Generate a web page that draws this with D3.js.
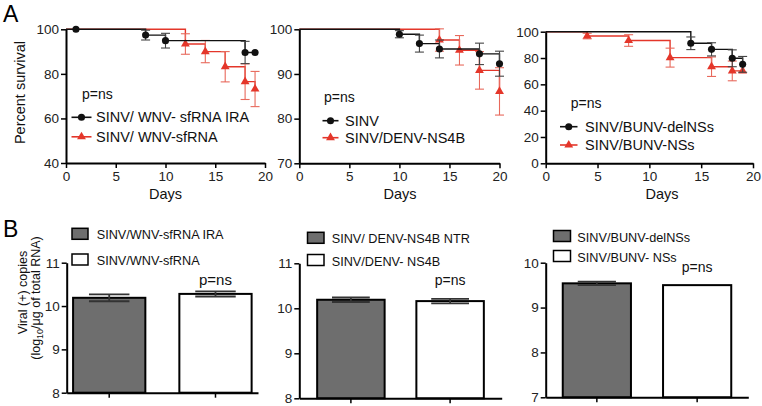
<!DOCTYPE html>
<html><head><meta charset="utf-8">
<script src="https://cdn.jsdelivr.net/npm/d3@7/dist/d3.min.js"></script>
<style>body{margin:0;background:#fff} svg{display:block;font-family:"Liberation Sans",Arial,Helvetica,sans-serif}</style>
</head><body><svg id="chart" width="762" height="406"></svg>
<script>
// ---------- DATA ----------
const daysTicks = [0, 5, 10, 15, 20];

// Panel A1
const a1Labels = ["SINV/ WNV- sfRNA IRA", "SINV/ WNV-sfRNA"];
const a1YTicks = [40, 60, 80, 100];
const a1BlackDays = [1, 8, 10, 18, 19];
const a1BlackSurv = [100, 97.4, 94.9, 89.6, 89.6];
const a1BlackErr  = [0, 2.2, 3.3, 5.0, 0];
const a1RedDays = [12, 14, 16, 18, 19];
const a1RedSurv = [93.4, 90.0, 83.2, 76.5, 73.2];
const a1RedErr  = [4.6, 5.0, 6.8, 8.0, 7.9];

// Panel A2
const a2Labels = ["SINV", "SINV/DENV-NS4B"];
const a2YTicks = [70, 80, 90, 100];
const a2BlackDays = [10, 12, 14, 18, 20];
const a2BlackSurv = [98.9, 96.8, 95.6, 94.5, 92.3];
const a2BlackErr  = [0.8, 1.9, 2.0, 2.4, 2.8];
const a2RedDays = [14, 16, 18, 20];
const a2RedSurv = [97.6, 95.3, 90.8, 86.1];
const a2RedErr  = [2.5, 3.3, 4.2, 5.3];

// Panel A3
const a3Labels = ["SINV/BUNV-delNSs", "SINV/BUNV-NSs"];
const a3YTicks = [0, 20, 40, 60, 80, 100];
const a3BlackDays = [14, 16, 18, 19];
const a3BlackSurv = [91.2, 86.6, 79.8, 75.2];
const a3BlackErr  = [4.8, 5.0, 6.4, 6.0];
const a3RedDays = [4, 8, 12, 16, 18, 19];
const a3RedSurv = [96.7, 93.3, 80.3, 73.4, 70.2, 70.2];
const a3RedErr  = [2.1, 4.4, 7.2, 7.4, 7.5, 0];

// Panel B
const b1Labels = ["SINV/WNV-sfRNA IRA", "SINV/WNV-sfRNA"];
const b1Values = [10.19, 10.28];
const b1Err    = [0.08, 0.06];
const b1YTicks = [8, 9, 10, 11];

const b2Labels = ["SINV/ DENV-NS4B NTR", "SINV/DENV- NS4B"];
const b2Values = [10.19, 10.16];
const b2Err    = [0.05, 0.05];
const b2YTicks = [8, 9, 10, 11];

const b3Labels = ["SINV/BUNV-delNSs", "SINV/BUNV- NSs"];
const b3Values = [9.54, 9.50];
const b3Err    = [0.04, 0.0];
const b3YTicks = [7, 8, 9, 10];

const pLabel = "p=ns";

// ---------- STYLE ----------
const RED = "#e4362a", RED_ERR = "#e8695c", BLACK = "#111", BLACK_ERR = "#444", GRAY = "#6e6e6e";

const svg = d3.select("#chart");

function styleAxis(g) {
  g.select(".domain").attr("stroke", "#000").attr("stroke-width", 2);
  g.selectAll(".tick line").attr("stroke", "#000").attr("stroke-width", 1.5);
  g.selectAll(".tick text").attr("fill", "#222").style("font-size", "13.5px");
}

function stepPath(days, surv, x, y) {
  let cur = 100;
  const pts = [[0, cur]];
  days.forEach((d, i) => {
    if (surv[i] !== cur) { pts.push([d, cur]); pts.push([d, surv[i]]); cur = surv[i]; }
  });
  pts.push([days[days.length - 1], cur]);
  return d3.line().x(p => x(p[0])).y(p => y(p[1]))(pts);
}

function drawSeries(g, days, surv, err, x, y, color, errColor, marker) {
  g.append("path").attr("d", stepPath(days, surv, x, y))
    .attr("fill", "none").attr("stroke", color).attr("stroke-width", 1.4);
  days.forEach((d, i) => {
    if (err[i] > 0) {
      const cx = x(d), yt = y(surv[i] + err[i]), yb = y(surv[i] - err[i]);
      const eg = g.append("g").attr("stroke", errColor).attr("stroke-width", 1.1);
      eg.append("line").attr("x1", cx).attr("x2", cx).attr("y1", yt).attr("y2", yb);
      eg.append("line").attr("x1", cx - 4.5).attr("x2", cx + 4.5).attr("y1", yt).attr("y2", yt);
      eg.append("line").attr("x1", cx - 4.5).attr("x2", cx + 4.5).attr("y1", yb).attr("y2", yb);
    }
  });
  g.selectAll(null).data(days).enter().append("path")
    .attr("transform", (d, i) => `translate(${x(d)},${y(surv[i])})`)
    .attr("d", d3.symbol().type(marker).size(marker === d3.symbolCircle ? 40 : 34)())
    .attr("fill", color);
}

function legendItem(g, lx1, lx2, ly, color, marker, text, tx, fs) {
  g.append("line").attr("x1", lx1).attr("x2", lx2).attr("y1", ly).attr("y2", ly)
    .attr("stroke", color).attr("stroke-width", 1.6);
  g.append("path").attr("transform", `translate(${(lx1 + lx2) / 2},${ly})`)
    .attr("d", d3.symbol().type(marker).size(marker === d3.symbolCircle ? 40 : 34)()).attr("fill", color);
  g.append("text").attr("x", tx).attr("y", ly + 5).text(text).style("font-size", fs + "px").attr("fill", "#111");
}

function drawSurv(c) {
  const g = svg.append("g");
  const x = d3.scaleLinear().domain([0, 20]).range([c.x0, c.x1]);
  const y = d3.scaleLinear().domain([c.yTicks[0], 100]).range([c.yBot, c.yTop]);
  drawSeries(g, c.red.days, c.red.surv, c.red.err, x, y, RED, RED_ERR, d3.symbolTriangle);
  drawSeries(g, c.black.days, c.black.surv, c.black.err, x, y, BLACK, BLACK_ERR, d3.symbolCircle);
  const ax = g.append("g").attr("transform", `translate(0,${c.yBot})`)
    .call(d3.axisBottom(x).tickValues(daysTicks).tickSize(5).tickSizeOuter(0).tickPadding(3));
  styleAxis(ax);
  const ay = g.append("g").attr("transform", `translate(${c.x0},0)`)
    .call(d3.axisLeft(y).tickValues(c.yTicks).tickSize(5).tickSizeOuter(0).tickPadding(2));
  styleAxis(ay);
  g.append("text").attr("x", c.daysX).attr("y", 199).attr("text-anchor", "middle")
    .text("Days").style("font-size", "14.5px").attr("fill", "#111");
  const L = c.leg;
  g.append("text").attr("x", L.px).attr("y", L.py).text(pLabel).style("font-size", "14px").attr("fill", "#111");
  legendItem(g, L.lx1, L.lx2, L.ly1, BLACK, d3.symbolCircle, c.labels[0], L.tx, 14.5);
  legendItem(g, L.lx1, L.lx2, L.ly2, RED, d3.symbolTriangle, c.labels[1], L.tx, 14.5);
}

drawSurv({x0: 66, x1: 265, yTop: 29.3, yBot: 163, yTicks: a1YTicks, labels: a1Labels, daysX: 165.5,
  black: {days: a1BlackDays, surv: a1BlackSurv, err: a1BlackErr},
  red: {days: a1RedDays, surv: a1RedSurv, err: a1RedErr},
  leg: {px: 82, py: 99, lx1: 71.5, lx2: 91.5, ly1: 117.3, ly2: 136.8, tx: 96}});
drawSurv({x0: 299.3, x1: 499.5, yTop: 29.3, yBot: 163.3, yTicks: a2YTicks, labels: a2Labels, daysX: 400,
  black: {days: a2BlackDays, surv: a2BlackSurv, err: a2BlackErr},
  red: {days: a2RedDays, surv: a2RedSurv, err: a2RedErr},
  leg: {px: 324, py: 102, lx1: 322.5, lx2: 338.5, ly1: 120.7, ly2: 137.7, tx: 345}});
drawSurv({x0: 545.7, x1: 753, yTop: 31.7, yBot: 163.3, yTicks: a3YTicks, labels: a3Labels, daysX: 662,
  black: {days: a3BlackDays, surv: a3BlackSurv, err: a3BlackErr},
  red: {days: a3RedDays, surv: a3RedSurv, err: a3RedErr},
  leg: {px: 570.7, py: 108, lx1: 560, lx2: 577.5, ly1: 126.7, ly2: 145, tx: 585}});

svg.append("text").attr("transform", "translate(25,92.5) rotate(-90)").attr("text-anchor", "middle")
  .text("Percent survival").style("font-size", "14.5px").attr("fill", "#111");

// ---------- B ----------
function drawBars(c) {
  const g = svg.append("g");
  const x = d3.scaleBand().domain(c.labels).range([c.x0, c.x1]).paddingInner(0.32).paddingOuter(c.po);
  const y = d3.scaleLinear().domain([c.yTicks[0], c.yTicks[c.yTicks.length - 1]]).range([c.yBot, c.yTop]);
  g.selectAll(null).data(c.labels).enter().append("rect")
    .attr("x", d => x(d)).attr("width", x.bandwidth())
    .attr("y", (d, i) => y(c.values[i])).attr("height", (d, i) => c.yBot - y(c.values[i]))
    .attr("fill", (d, i) => i === 0 ? GRAY : "#fff").attr("stroke", "#000").attr("stroke-width", 2);
  c.labels.forEach((d, i) => {
    if (c.err[i] > 0) {
      const cx = x(d) + x.bandwidth() / 2, hw = x.bandwidth() * 0.28;
      const yt = y(c.values[i] + c.err[i]), yb = y(c.values[i] - c.err[i]);
      const eg = g.append("g").attr("stroke", "#333").attr("stroke-width", 1.8);
      eg.append("line").attr("x1", cx).attr("x2", cx).attr("y1", yt).attr("y2", yb);
      eg.append("line").attr("x1", cx - hw).attr("x2", cx + hw).attr("y1", yt).attr("y2", yt);
      eg.append("line").attr("x1", cx - hw).attr("x2", cx + hw).attr("y1", yb).attr("y2", yb);
    }
  });
  const ax = g.append("g").attr("transform", `translate(0,${c.yBot})`)
    .call(d3.axisBottom(x).tickSize(5).tickSizeOuter(0).tickFormat(""));
  styleAxis(ax);
  const ay = g.append("g").attr("transform", `translate(${c.x0},0)`)
    .call(d3.axisLeft(y).tickValues(c.yTicks).tickSize(5).tickSizeOuter(0).tickPadding(2).tickFormat(d3.format("d")));
  styleAxis(ay);
  const L = c.leg;
  [0, 1].forEach(i => {
    const by = i === 0 ? L.by1 : L.by2;
    g.append("rect").attr("x", L.bx).attr("y", by).attr("width", L.bw).attr("height", 11)
      .attr("fill", i === 0 ? GRAY : "#fff").attr("stroke", "#000").attr("stroke-width", 1.5);
    g.append("text").attr("x", L.tx).attr("y", by + 11).text(c.labels[i])
      .style("font-size", "12.7px").attr("fill", "#111");
  });
  g.append("text").attr("x", x(c.labels[1]) + x.bandwidth() / 2).attr("y", c.py).attr("text-anchor", "middle")
    .text(pLabel).style("font-size", c.pfs + "px").attr("fill", "#111");
}

drawBars({x0: 66.7, x1: 258, yTop: 262.7, yBot: 392.7, po: 0.06, yTicks: b1YTicks,
  labels: b1Labels, values: b1Values, err: b1Err, py: 285, pfs: 15,
  leg: {bx: 72, bw: 16, by1: 228.3, by2: 254, tx: 96.7}});
drawBars({x0: 299.3, x1: 501.7, yTop: 263.3, yBot: 398.3, po: 0.18, yTicks: b2YTicks,
  labels: b2Labels, values: b2Values, err: b2Err, py: 285, pfs: 14,
  leg: {bx: 307.5, bw: 16.5, by1: 232.3, by2: 254.5, tx: 331.7}});
drawBars({x0: 545.7, x1: 748.3, yTop: 262.7, yBot: 397.3, po: 0.17, yTicks: b3YTicks,
  labels: b3Labels, values: b3Values, err: b3Err, py: 272, pfs: 14,
  leg: {bx: 553.5, bw: 17, by1: 230.5, by2: 250.5, tx: 577.3}});

const bt = svg.append("text").attr("transform", "translate(27,292.5) rotate(-90)").attr("text-anchor", "middle")
  .style("font-size", "12.5px").attr("fill", "#111").text("Viral (+) copies");
const bt2 = svg.append("text").attr("transform", "translate(39.5,298) rotate(-90)").attr("text-anchor", "middle")
  .style("font-size", "12.5px").attr("fill", "#111");
bt2.append("tspan").text("(log");
bt2.append("tspan").attr("dy", 3).style("font-size", "9px").text("10");
bt2.append("tspan").attr("dy", -3).text("/μg of total RNA)");

svg.append("text").attr("x", 3).attr("y", 22).text("A").style("font-size", "23px").attr("fill", "#000");
svg.append("text").attr("x", 3).attr("y", 237).text("B").style("font-size", "23px").attr("fill", "#000");
</script></body></html>
